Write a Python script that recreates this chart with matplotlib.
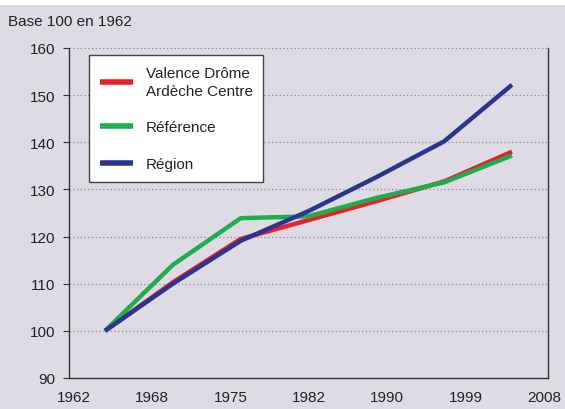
import matplotlib
matplotlib.use("Agg")
import matplotlib.pyplot as plt
import numpy as np
from matplotlib.patches import Rectangle

plt.rcParams['font.family'] = ['Liberation Sans Narrow', 'Liberation Sans', 'DejaVu Sans']

# Data (index 100 = 1962), 7 census points
series_names = ["Valence Drôme\nArdèche Centre", "Référence", "Région"]
vdac = [100, 110.3, 119.5, 123.5, 127.5, 131.7, 138.0]
reference = [100, 114.0, 123.9, 124.3, 128.2, 131.5, 137.2]
region = [100, 110.0, 119.1, 125.4, 132.6, 140.2, 152.2]
tick_labels = ["1962", "1968", "1975", "1982", "1990", "1999", "2008"]
y_ticks = [90, 100, 110, 120, 130, 140, 150, 160]

colors = ["#e8202a", "#1fae4b", "#2b3590"]
bg = "#dfdbe5"
fs = 11

fig = plt.figure(figsize=(5.65, 4.10), dpi=100)
fig.patch.set_facecolor(bg)
fig.patches.append(Rectangle((0, 1 - 6 / 410), 1, 6 / 410, transform=fig.transFigure,
                             facecolor="white", edgecolor="none", zorder=0))

ax = fig.add_axes([69 / 565, 31 / 410, 479 / 565, 330 / 410])
ax.set_facecolor(bg)

x = np.arange(len(vdac))
for vals, name, c in zip([vdac, reference, region], series_names, colors):
    ax.plot(x, vals, color=c, lw=3.2, label=name, solid_capstyle="butt", zorder=3)

xmin, xmax = -0.531, 6.531
ax.set_xlim(xmin, xmax)
ax.set_ylim(90, 160)
span = xmax - xmin
ax.set_xticks(np.linspace(xmin + 5 / 479 * span, xmax - 4 / 479 * span, len(tick_labels)))
ax.set_xticklabels(tick_labels)
ax.set_yticks(y_ticks)

ax.grid(axis="y", color="#888888", linestyle=(0, (1, 2)), lw=0.9)
ax.set_axisbelow(True)
ax.spines["top"].set_visible(False)
for s in ["left", "bottom", "right"]:
    ax.spines[s].set_color("#333333")
    ax.spines[s].set_linewidth(1.0)

ax.tick_params(axis="y", length=4, width=0.8, color="#333333", labelsize=fs,
               labelcolor="#222222", pad=6)
ax.tick_params(axis="x", length=0, labelsize=fs, labelcolor="#222222", pad=9)

fig.text(8 / 565, 1 - 22 / 410, "Base 100 en 1962", fontsize=fs, color="#222222",
         ha="left", va="center")

leg = ax.legend(loc="upper left", bbox_to_anchor=(20 / 479, 1 - 7 / 330),
                borderaxespad=0, frameon=True, fancybox=False, fontsize=fs,
                handlelength=2.2, handletextpad=0.8, borderpad=0.7,
                labelspacing=1.5)
leg.get_frame().set_edgecolor("#444444")
leg.get_frame().set_linewidth(1.0)
leg.get_frame().set_facecolor("white")
leg.get_frame().set_alpha(1)
for line in leg.get_lines():
    line.set_linewidth(4.0)
for t in leg.get_texts():
    t.set_color("#222222")
    t.set_linespacing(1.35)

fig.savefig("out.png", dpi=100, facecolor=fig.get_facecolor())
